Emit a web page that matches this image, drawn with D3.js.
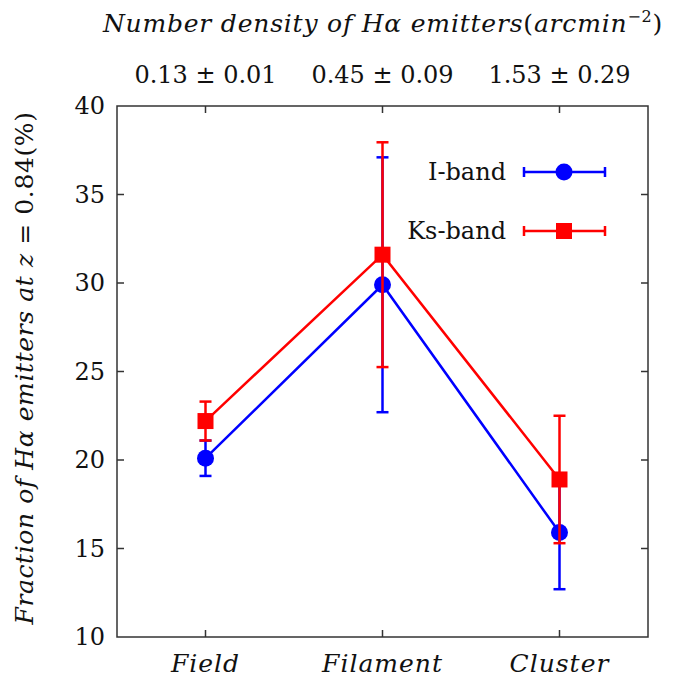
<!DOCTYPE html>
<html><head><meta charset="utf-8">
<script src="https://cdn.jsdelivr.net/npm/d3@7"></script>
<style>
body{margin:0;background:#fff;}
svg text{font-family:"DejaVu Serif","Liberation Serif","Times New Roman",Tinos,"Noto Serif",serif;fill:#111;}
</style></head><body>
<svg id="c" width="685" height="679"></svg>
<script>
const categories = ["Field","Filament","Cluster"];
const densityLabels = ["0.13 \u00b1 0.01","0.45 \u00b1 0.09","1.53 \u00b1 0.29"];
const iband = [20.1, 29.9, 15.9];
const ibandErr = [1.0, 7.2, 3.2];
const ksband = [22.2, 31.6, 18.9];
const ksbandErr = [1.1, 6.35, 3.6];
const yTicks = [10,15,20,25,30,35,40];

const svg = d3.select("#c");
const L=117, R=648, T=106, B=637;
const x = d3.scaleLinear().domain([0.5,3.5]).range([L,R]);
const y = d3.scaleLinear().domain([10,40]).range([B,T]);
const frame = "#333";

svg.append("rect").attr("x",L).attr("y",T).attr("width",R-L).attr("height",B-T)
  .attr("fill","none").attr("stroke",frame).attr("stroke-width",1.5);

const ax = d3.axisLeft(y).tickValues(yTicks).tickSize(0).tickPadding(12);
const gy = svg.append("g").attr("transform",`translate(${L},0)`).call(ax);
gy.select(".domain").remove();
gy.selectAll("text").attr("font-size",24).attr("font-family",null).attr("fill","#111");
gy.attr("font-family",null);
yTicks.slice(1,-1).forEach(v=>{
  svg.append("line").attr("x1",L).attr("x2",L+7).attr("y1",y(v)).attr("y2",y(v)).attr("stroke",frame).attr("stroke-width",1.5);
  svg.append("line").attr("x1",R).attr("x2",R-7).attr("y1",y(v)).attr("y2",y(v)).attr("stroke",frame).attr("stroke-width",1.5);
});
categories.forEach((c,i)=>{
  const xv=x(i+1);
  svg.append("line").attr("x1",xv).attr("x2",xv).attr("y1",B).attr("y2",B-7).attr("stroke",frame).attr("stroke-width",1.5);
  svg.append("line").attr("x1",xv).attr("x2",xv).attr("y1",T).attr("y2",T+7).attr("stroke",frame).attr("stroke-width",1.5);
  svg.append("text").attr("x",xv).attr("y",672).attr("text-anchor","middle").attr("font-size",25)
    .attr("font-style","italic").attr("letter-spacing",1).text(c);
  svg.append("text").attr("x",xv).attr("y",83).attr("text-anchor","middle").attr("font-size",24).text(densityLabels[i]);
});

const t = svg.append("text").attr("x",383).attr("y",32).attr("text-anchor","middle").attr("font-size",25).attr("font-style","italic").attr("letter-spacing",0.8);
t.append("tspan").text("Number density of H\u03b1 emitters");
t.append("tspan").attr("font-style","normal").text("(");
t.append("tspan").text("arcmin");
t.append("tspan").attr("font-size",16).attr("dy",-10).attr("font-style","normal").text("\u22122");
t.append("tspan").attr("dy",10).attr("font-style","normal").text(")");

const yl = svg.append("text").attr("transform","translate(33,368) rotate(-90)").attr("text-anchor","middle").attr("font-size",25).attr("letter-spacing",0.6);
yl.append("tspan").attr("font-style","italic").text("Fraction of H\u03b1 emitters at z");
yl.append("tspan").text(" = 0.84(%)");

function series(vals, errs, color, shape){
  const g = svg.append("g");
  const line = d3.line().x((d,i)=>x(i+1)).y(d=>y(d));
  g.append("path").datum(vals).attr("d",line).attr("fill","none").attr("stroke",color).attr("stroke-width",2.5);
  vals.forEach((v,i)=>{
    const xv=x(i+1);
    g.append("line").attr("x1",xv).attr("x2",xv).attr("y1",y(v-errs[i])).attr("y2",y(v+errs[i])).attr("stroke",color).attr("stroke-width",2.5);
    [v-errs[i], v+errs[i]].forEach(e=>{
      g.append("line").attr("x1",xv-6).attr("x2",xv+6).attr("y1",y(e)).attr("y2",y(e)).attr("stroke",color).attr("stroke-width",2.5);
    });
    if(shape==="circle") g.append("circle").attr("cx",xv).attr("cy",y(v)).attr("r",8.5).attr("fill",color);
    else g.append("rect").attr("x",xv-8).attr("y",y(v)-8).attr("width",16).attr("height",16).attr("fill",color);
  });
}
series(iband, ibandErr, "#0000ff", "circle");
series(ksband, ksbandErr, "#ff0000", "square");

function legend(label, color, shape, ly){
  svg.append("text").attr("x",506).attr("y",ly+8).attr("text-anchor","end").attr("font-size",24).text(label);
  svg.append("line").attr("x1",524).attr("x2",605).attr("y1",ly).attr("y2",ly).attr("stroke",color).attr("stroke-width",2.5);
  [524,605].forEach(xx=>svg.append("line").attr("x1",xx).attr("x2",xx).attr("y1",ly-5).attr("y2",ly+5).attr("stroke",color).attr("stroke-width",2.5));
  if(shape==="circle") svg.append("circle").attr("cx",564).attr("cy",ly).attr("r",8.5).attr("fill",color);
  else svg.append("rect").attr("x",556).attr("y",ly-8).attr("width",16).attr("height",16).attr("fill",color);
}
legend("I-band","#0000ff","circle",172);
legend("Ks-band","#ff0000","square",231);
</script></body></html>
